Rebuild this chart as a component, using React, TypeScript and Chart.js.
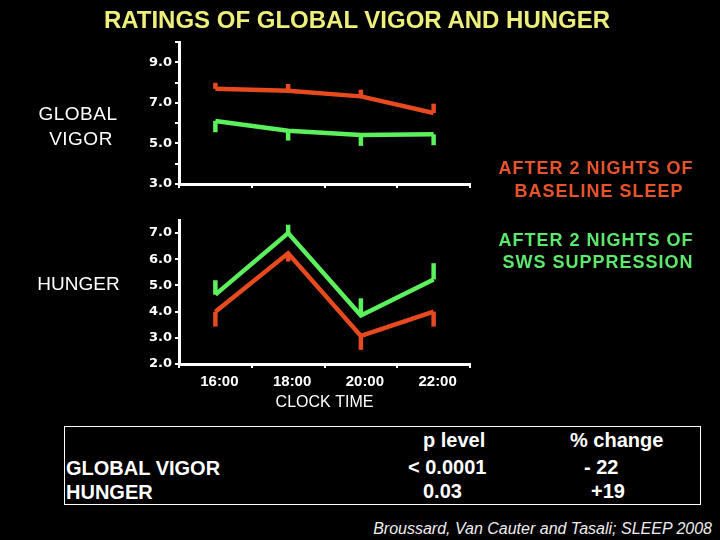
import React, { useEffect, useRef } from 'react';
import { Chart, registerables } from 'chart.js';

Chart.register(...registerables);

const categories = ['16:00', '18:00', '20:00', '22:00'];

const vigorBaseline = [7.69, 7.6, 7.32, 6.5];
const vigorBaselineErr = [0.3, 0.33, 0.33, 0.46];
const vigorSws = [6.11, 5.63, 5.42, 5.45];
const vigorSwsErr = [0.56, 0.49, 0.54, 0.54];

const hungerSws = [4.65, 7.0, 3.85, 5.23];
const hungerSwsErr = [0.55, 0.32, 0.66, 0.62];
const hungerBaseline = [4.0, 6.23, 3.07, 4.0];
const hungerBaselineErr = [0.57, 0.32, 0.53, 0.57];

const vigorTicks = [3, 4, 5, 6, 7, 8, 9, 10];
const vigorTickLabels = [3, 5, 7, 9];
const hungerTicks = [2, 3, 4, 5, 6, 7];
const hungerTickLabels = [2, 3, 4, 5, 6, 7];

const RED = '#E64A1E';
const GREEN = '#5CF05C';
const WHITE = '#FFFFFF';
const SANS = "'Liberation Sans', Arial, sans-serif";

const errorBarPlugin = {
  id: 'errorBars',
  afterDatasetsDraw(chart: any) {
    const ctx = chart.ctx;
    const yScale = chart.scales.y;
    chart.data.datasets.forEach((ds: any, i: number) => {
      if (!ds.errors) return;
      const meta = chart.getDatasetMeta(i);
      ctx.save();
      ctx.strokeStyle = ds.borderColor;
      ctx.lineWidth = ds.borderWidth;
      ctx.lineCap = 'butt';
      meta.data.forEach((pt: any, j: number) => {
        const v = ds.data[j];
        const end = v + ds.errorDir * ds.errors[j];
        ctx.beginPath();
        ctx.moveTo(pt.x, yScale.getPixelForValue(v));
        ctx.lineTo(pt.x, yScale.getPixelForValue(end));
        ctx.stroke();
      });
      ctx.restore();
    });
  },
};

function makeDataset(data: number[], errors: number[], dir: number, color: string) {
  return {
    data,
    errors,
    errorDir: dir,
    borderColor: color,
    backgroundColor: color,
    borderWidth: 4.5,
    pointRadius: 0,
    tension: 0,
    borderJoinStyle: 'miter',
    borderCapStyle: 'butt',
    fill: false,
  } as any;
}

type PanelProps = {
  top: number;
  height: number;
  padTop: number;
  xHeight: number;
  yMin: number;
  yMax: number;
  yTicks: number[];
  yLabels: number[];
  showX: boolean;
  datasets: any[];
};

function Panel(p: PanelProps) {
  const ref = useRef<HTMLCanvasElement>(null);
  useEffect(() => {
    if (!ref.current) return;
    const chart = new Chart(ref.current, {
      type: 'line',
      data: { labels: categories, datasets: p.datasets },
      plugins: [errorBarPlugin],
      options: {
        animation: false,
        responsive: false,
        devicePixelRatio: 1,
        layout: { padding: { top: p.padTop, right: 250, left: 0, bottom: 0 } },
        plugins: { legend: { display: false }, tooltip: { enabled: false } },
        scales: {
          x: {
            type: 'category',
            offset: true,
            afterFit: (s: any) => { s.height = p.xHeight; },
            grid: {
              offset: true,
              drawOnChartArea: false,
              drawTicks: true,
              tickLength: 4,
              color: WHITE,
              lineWidth: 2,
            },
            border: { display: true, color: WHITE, width: 3 },
            ticks: {
              display: p.showX,
              color: WHITE,
              padding: 5,
              labelOffset: 4,
              maxRotation: 0,
              autoSkip: false,
              font: { family: SANS, size: 15, weight: 'bold' },
            },
            title: {
              display: p.showX,
              text: 'CLOCK TIME',
              color: WHITE,
              padding: { top: 0, bottom: 7.4 },
              font: { family: SANS, size: 16 },
            },
          },
          y: {
            type: 'linear',
            min: p.yMin,
            max: p.yMax,
            afterFit: (s: any) => { s.width = 179; },
            afterBuildTicks: (s: any) => { s.ticks = p.yTicks.map((v) => ({ value: v })); },
            grid: {
              drawOnChartArea: false,
              drawTicks: true,
              tickLength: 4,
              color: WHITE,
              lineWidth: 2,
            },
            border: { display: true, color: WHITE, width: 3 },
            ticks: {
              autoSkip: false,
              padding: 3,
              color: WHITE,
              font: { family: "'DejaVu Sans', sans-serif", size: 13, weight: 'bold' },
              callback: (v: any) => (p.yLabels.includes(Number(v)) ? Number(v).toFixed(1) : ''),
            },
          },
        },
      } as any,
    });
    return () => chart.destroy();
  }, []);
  return (
    <canvas
      ref={ref}
      width={720}
      height={p.height}
      style={{ position: 'absolute', left: 0, top: p.top, width: 720, height: p.height, display: 'block' }}
    />
  );
}

function T(props: { x: number; y: number; align?: 'center' | 'left' | 'right'; style?: any; children: any }) {
  const a = props.align || 'center';
  const tx = a === 'center' ? '-50%' : a === 'left' ? '0' : '-100%';
  return (
    <div
      style={{
        position: 'absolute',
        left: props.x,
        top: props.y,
        transform: `translate(${tx}, -50%)`,
        whiteSpace: 'nowrap',
        lineHeight: 1,
        color: WHITE,
        ...props.style,
      }}
    >
      {props.children}
    </div>
  );
}

export default function App() {
  const bold20 = { fontSize: 20, fontWeight: 'bold' };
  const side = { fontSize: 18, fontWeight: 'bold', letterSpacing: 1 };
  const left = { fontSize: 19, letterSpacing: 0.5 };
  return (
    <div
      style={{
        position: 'fixed',
        left: 0,
        top: 0,
        width: 720,
        height: 540,
        background: '#000',
        overflow: 'hidden',
        fontFamily: SANS,
      }}
    >
      <Panel
        top={0}
        height={200}
        padTop={42}
        xHeight={16}
        yMin={3}
        yMax={10}
        yTicks={vigorTicks}
        yLabels={vigorTickLabels}
        showX={false}
        datasets={[
          makeDataset(vigorBaseline, vigorBaselineErr, 1, RED),
          makeDataset(vigorSws, vigorSwsErr, -1, GREEN),
        ]}
      />
      <Panel
        top={200}
        height={220}
        padTop={20}
        xHeight={56}
        yMin={2}
        yMax={7.5}
        yTicks={hungerTicks}
        yLabels={hungerTickLabels}
        showX={true}
        datasets={[
          makeDataset(hungerBaseline, hungerBaselineErr, -1, RED),
          makeDataset(hungerSws, hungerSwsErr, 1, GREEN),
        ]}
      />

      <T x={357} y={20} style={{ fontSize: 24, fontWeight: 'bold', color: '#EEEE7A' }}>
        RATINGS OF GLOBAL VIGOR AND HUNGER
      </T>

      <T x={78} y={113} style={left}>GLOBAL</T>
      <T x={81} y={138} style={left}>VIGOR</T>
      <T x={78.5} y={283} style={{ fontSize: 19 }}>HUNGER</T>

      <T x={596} y={168} style={{ ...side, color: '#E8532C' }}>AFTER 2 NIGHTS OF</T>
      <T x={599} y={191} style={{ ...side, color: '#E8532C' }}>BASELINE SLEEP</T>
      <T x={596} y={240} style={{ ...side, color: '#5BE86B' }}>AFTER 2 NIGHTS OF</T>
      <T x={598} y={262} style={{ ...side, color: '#5BE86B' }}>SWS SUPPRESSION</T>

      <div
        style={{
          position: 'absolute',
          left: 64,
          top: 426,
          width: 637,
          height: 79,
          border: '1px solid #FFFFFF',
          boxSizing: 'border-box',
        }}
      />
      <T x={423} y={440} align="left" style={bold20}>p level</T>
      <T x={570} y={440} align="left" style={bold20}>% change</T>
      <T x={66} y={468} align="left" style={bold20}>GLOBAL VIGOR</T>
      <T x={408} y={467} align="left" style={bold20}>&lt; 0.0001</T>
      <T x={584} y={467} align="left" style={bold20}>- 22</T>
      <T x={66} y={492} align="left" style={bold20}>HUNGER</T>
      <T x={423} y={491} align="left" style={bold20}>0.03</T>
      <T x={591} y={491} align="left" style={bold20}>+19</T>

      <T x={712} y={529} align="right" style={{ fontSize: 16, fontStyle: 'italic', color: '#EEEEEE' }}>
        Broussard, Van Cauter and Tasali; SLEEP 2008
      </T>
    </div>
  );
}
